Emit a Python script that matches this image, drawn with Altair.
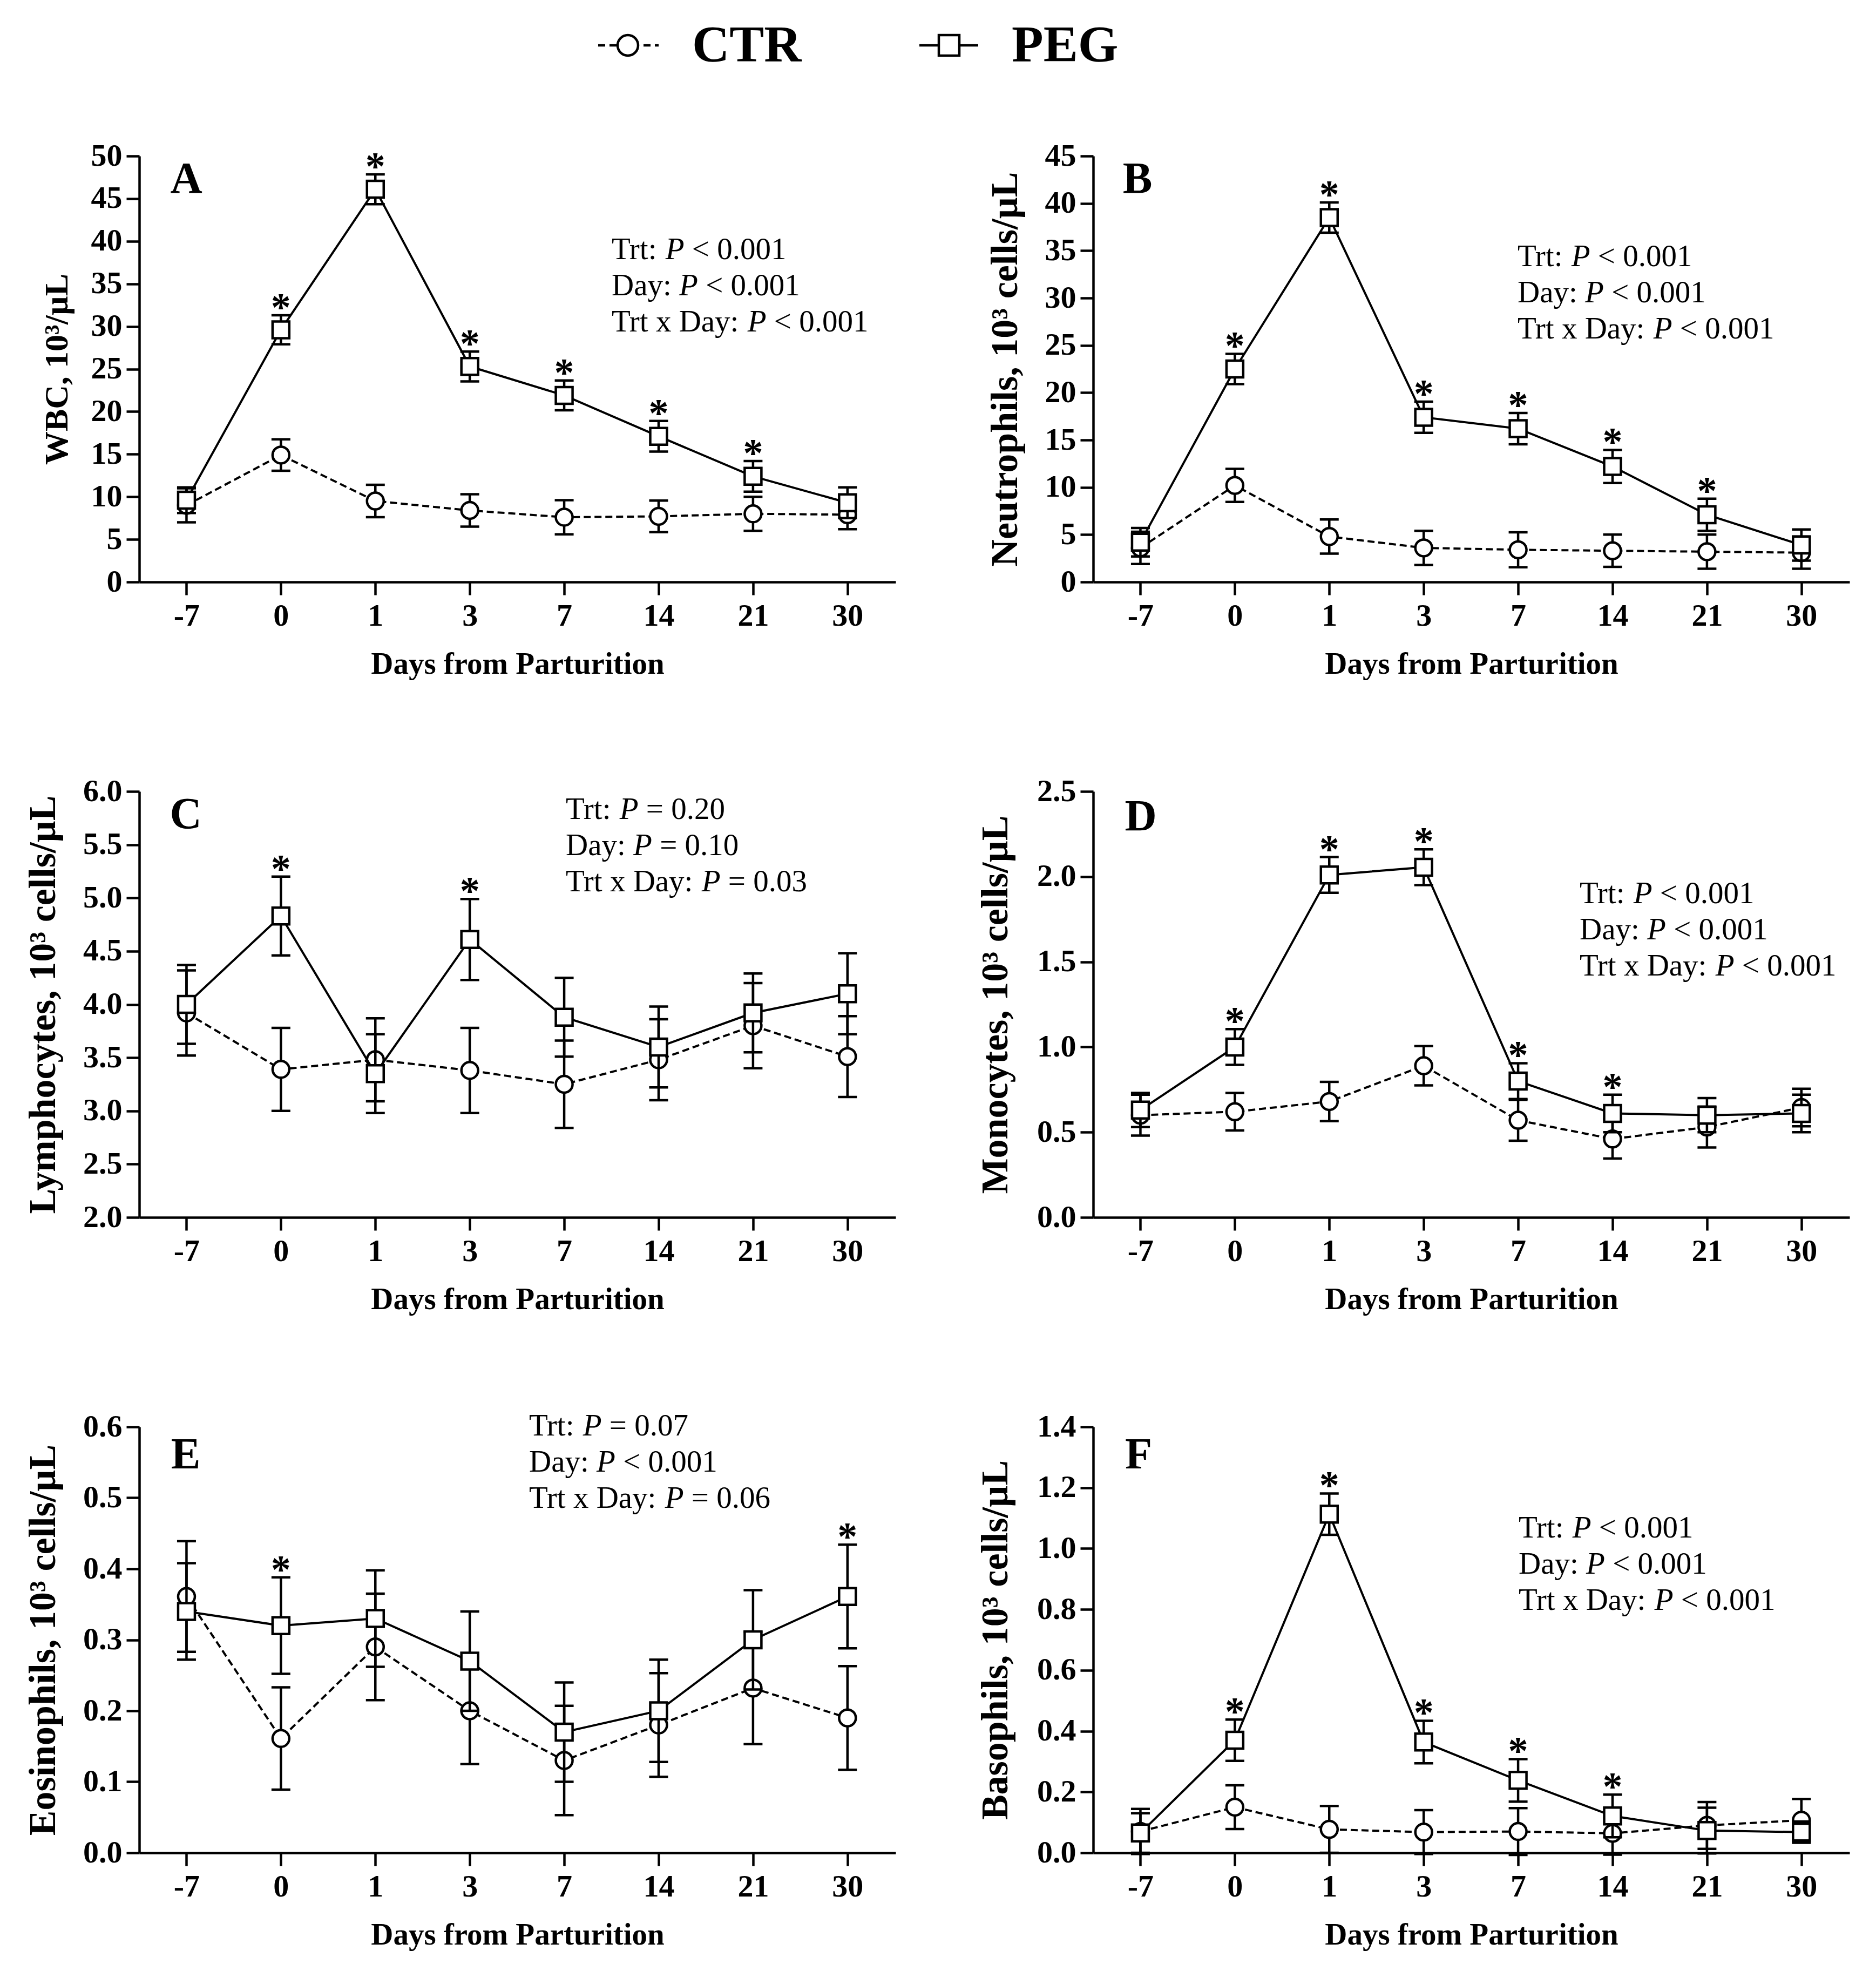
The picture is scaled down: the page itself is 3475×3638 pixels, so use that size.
import altair as alt
import pandas as pd

# ---------------- data ----------------
DAYS = ["-7", "0", "1", "3", "7", "14", "21", "30"]
GROUPS = ["CTR", "PEG"]

WBC_CTR = [9.0, 14.9, 9.5, 8.4, 7.6, 7.7, 8.0, 7.9]
WBC_CTR_SE = [2.0, 1.85, 1.9, 1.9, 2.0, 1.85, 2.0, 1.7]
WBC_PEG = [9.6, 29.6, 46.1, 25.3, 21.9, 17.1, 12.4, 9.3]
WBC_PEG_SE = [1.5, 1.7, 1.75, 1.75, 1.75, 1.8, 1.8, 1.8]
WBC_SIG = ["0", "1", "3", "7", "14", "21"]

NEU_CTR = [3.6, 10.2, 4.8, 3.6, 3.4, 3.3, 3.2, 3.1]
NEU_CTR_SE = [1.7, 1.75, 1.8, 1.8, 1.85, 1.7, 1.8, 1.7]
NEU_PEG = [4.2, 22.5, 38.5, 17.4, 16.2, 12.2, 7.1, 3.9]
NEU_PEG_SE = [1.5, 1.6, 1.6, 1.65, 1.65, 1.75, 1.7, 1.65]
NEU_SIG = ["0", "1", "3", "7", "14", "21"]

LYM_CTR = [3.92, 3.39, 3.48, 3.38, 3.25, 3.48, 3.80, 3.51]
LYM_CTR_SE = [0.40, 0.39, 0.39, 0.40, 0.41, 0.38, 0.40, 0.38]
LYM_PEG = [4.00, 4.83, 3.35, 4.61, 3.88, 3.60, 3.92, 4.10]
LYM_PEG_SE = [0.37, 0.37, 0.37, 0.38, 0.37, 0.38, 0.37, 0.38]
LYM_SIG = ["0", "3"]

MON_CTR = [0.60, 0.62, 0.68, 0.89, 0.57, 0.46, 0.53, 0.645]
MON_CTR_SE = [0.12, 0.11, 0.115, 0.115, 0.12, 0.115, 0.12, 0.11]
MON_PEG = [0.63, 1.00, 2.01, 2.055, 0.80, 0.61, 0.60, 0.61]
MON_PEG_SE = [0.10, 0.105, 0.105, 0.105, 0.105, 0.11, 0.10, 0.11]
MON_SIG = ["0", "1", "3", "7", "14"]

EOS_CTR = [0.361, 0.161, 0.290, 0.200, 0.130, 0.180, 0.232, 0.190]
EOS_CTR_SE = [0.078, 0.072, 0.075, 0.075, 0.077, 0.073, 0.079, 0.073]
EOS_PEG = [0.340, 0.320, 0.330, 0.270, 0.170, 0.200, 0.300, 0.361]
EOS_PEG_SE = [0.068, 0.068, 0.068, 0.070, 0.070, 0.072, 0.070, 0.073]
EOS_SIG = ["0", "30"]

BAS_CTR = [0.070, 0.150, 0.077, 0.068, 0.070, 0.064, 0.090, 0.107]
BAS_CTR_SE = [0.074, 0.072, 0.077, 0.072, 0.077, 0.070, 0.077, 0.070]
BAS_PEG = [0.065, 0.370, 1.113, 0.364, 0.238, 0.121, 0.073, 0.068]
BAS_PEG_SE = [0.065, 0.068, 0.068, 0.070, 0.070, 0.070, 0.075, 0.035]
BAS_SIG = ["0", "1", "3", "7", "14"]

STATS_LT = [("Trt", "<", "0.001"), ("Day", "<", "0.001"), ("Trt x Day", "<", "0.001")]
STATS_C = [("Trt", "=", "0.20"), ("Day", "=", "0.10"), ("Trt x Day", "=", "0.03")]
STATS_E = [("Trt", "=", "0.07"), ("Day", "<", "0.001"), ("Trt x Day", "=", "0.06")]

PANELS = [
    dict(letter="A", ytitle="WBC, 10³/µL", ctr=WBC_CTR, ctr_se=WBC_CTR_SE,
         peg=WBC_PEG, peg_se=WBC_PEG_SE, sig=WBC_SIG, ydom=[0, 50],
         yticks=[0, 5, 10, 15, 20, 25, 30, 35, 40, 45, 50], fmt="d", stats=STATS_LT),
    dict(letter="B", ytitle="Neutrophils, 10³ cells/µL", ctr=NEU_CTR, ctr_se=NEU_CTR_SE,
         peg=NEU_PEG, peg_se=NEU_PEG_SE, sig=NEU_SIG, ydom=[0, 45],
         yticks=[0, 5, 10, 15, 20, 25, 30, 35, 40, 45], fmt="d", stats=STATS_LT),
    dict(letter="C", ytitle="Lymphocytes, 10³ cells/µL", ctr=LYM_CTR, ctr_se=LYM_CTR_SE,
         peg=LYM_PEG, peg_se=LYM_PEG_SE, sig=LYM_SIG, ydom=[2.0, 6.0],
         yticks=[2.0, 2.5, 3.0, 3.5, 4.0, 4.5, 5.0, 5.5, 6.0], fmt=".1f", stats=STATS_C),
    dict(letter="D", ytitle="Monocytes, 10³ cells/µL", ctr=MON_CTR, ctr_se=MON_CTR_SE,
         peg=MON_PEG, peg_se=MON_PEG_SE, sig=MON_SIG, ydom=[0.0, 2.5],
         yticks=[0.0, 0.5, 1.0, 1.5, 2.0, 2.5], fmt=".1f", stats=STATS_LT),
    dict(letter="E", ytitle="Eosinophils,  10³ cells/µL", ctr=EOS_CTR, ctr_se=EOS_CTR_SE,
         peg=EOS_PEG, peg_se=EOS_PEG_SE, sig=EOS_SIG, ydom=[0.0, 0.6],
         yticks=[0.0, 0.1, 0.2, 0.3, 0.4, 0.5, 0.6], fmt=".1f", stats=STATS_E),
    dict(letter="F", ytitle="Basophils, 10³ cells/µL", ctr=BAS_CTR, ctr_se=BAS_CTR_SE,
         peg=BAS_PEG, peg_se=BAS_PEG_SE, sig=BAS_SIG, ydom=[0.0, 1.4],
         yticks=[0.0, 0.2, 0.4, 0.6, 0.8, 1.0, 1.2, 1.4], fmt=".1f", stats=STATS_LT),
]

# ---------------- layout / style ----------------
FONT = "Liberation Serif"
W, H = 1401, 789
XDOM = [-0.5, 7.51]
LAYOUT = {
    "A": dict(titleX=-134, titleFS=62, letter=(87, 68), ann=(875, 191)),
    "B": dict(titleX=-142, titleFS=70, letter=(82, 68), ann=(786, 204)),
    "C": dict(titleX=-157, titleFS=70, letter=(86, 68), ann=(790, 51)),
    "D": dict(titleX=-160, titleFS=70, letter=(88, 72), ann=(901, 207)),
    "E": dict(titleX=-157, titleFS=70, letter=(86, 77), ann=(722, 16)),
    "F": dict(titleX=-160, titleFS=70, letter=(84, 77), ann=(788, 205)),
}
ANN_FS, ANN_LH = 57, 67
LW, MW = 4.0, 4.5

# Times / Liberation Serif advance widths (1/1000 em)
ADV = {" ": 250, "T": 611, "r": 333, "t": 278, ":": 278, "D": 722, "a": 444,
       "y": 500, "x": 500, "<": 564, "=": 564, ".": 250}
for _d in "0123456789":
    ADV[_d] = 500
P_ITALIC = 611


def tw(s, fs):
    return sum(ADV[c] for c in s) * fs / 1000.0


ONE = pd.DataFrame({"k": [0]})


def txt(text, x, y, **kw):
    props = dict(font=FONT, color="black", align="left", baseline="alphabetic")
    props.update(kw)
    return alt.Chart(ONE).mark_text(text=text, **props).encode(
        x=alt.value(x), y=alt.value(y))


def ann_layers(stats, x0, y0):
    out = []
    for i, (name, op, val) in enumerate(stats):
        y = y0 + i * ANN_LH
        pre = name + ":"
        px = x0 + tw(pre + " ", ANN_FS)
        sx = px + (P_ITALIC + ADV[" "]) * ANN_FS / 1000.0
        out.append(txt(pre, x0, y, fontSize=ANN_FS))
        out.append(txt("P", px, y, fontSize=ANN_FS, fontStyle="italic"))
        out.append(txt(f"{op} {val}", sx, y, fontSize=ANN_FS))
    return out


def legend_layers():
    out = []
    yc = -205
    out.append(alt.Chart(ONE).mark_rule(color="black", strokeWidth=MW, strokeDash=[13, 8]).encode(
        x=alt.value(850), x2=alt.value(962), y=alt.value(yc)))
    out.append(alt.Chart(ONE).mark_point(shape="circle", size=1444, filled=True, fill="white",
                                         stroke="black", strokeWidth=MW, opacity=1).encode(
        x=alt.value(905), y=alt.value(yc)))
    out.append(txt("CTR", 1024, -175, fontSize=96, fontWeight="bold"))
    out.append(alt.Chart(ONE).mark_rule(color="black", strokeWidth=MW).encode(
        x=alt.value(1445), x2=alt.value(1554), y=alt.value(yc)))
    out.append(alt.Chart(ONE).mark_point(shape="square", size=1444, filled=True, fill="white",
                                         stroke="black", strokeWidth=MW, opacity=1).encode(
        x=alt.value(1500), y=alt.value(yc)))
    out.append(txt("PEG", 1616, -175, fontSize=96, fontWeight="bold"))
    return out


label_expr = "[" + ",".join(f"'{d}'" for d in DAYS) + "][datum.value]"


def make_panel(p):
    lay = LAYOUT[p["letter"]]
    rows = []
    for g, m, se in (("CTR", p["ctr"], p["ctr_se"]), ("PEG", p["peg"], p["peg_se"])):
        for i, d in enumerate(DAYS):
            rows.append(dict(idx=i, day=d, grp=g, mean=m[i], lo=m[i] - se[i], hi=m[i] + se[i],
                             sig=1 if (g == "PEG" and d in p["sig"]) else 0))
    df = pd.DataFrame(rows)

    xscale = alt.Scale(domain=XDOM, nice=False, zero=False)
    yscale = alt.Scale(domain=p["ydom"], nice=False, zero=False)
    xaxis = alt.Axis(values=list(range(len(DAYS))), labelExpr=label_expr,
                     title="Days from Parturition", titleFontSize=57, titleY=169,
                     titleBaseline="alphabetic", labelPadding=10)
    yaxis = alt.Axis(values=p["yticks"], format=p["fmt"], title=p["ytitle"],
                     titleFontSize=lay["titleFS"], titleX=lay["titleX"],
                     titleBaseline="alphabetic", labelPadding=8)

    def X(f):
        return alt.X(f"{f}:Q", scale=xscale, axis=xaxis)

    def Y(f):
        return alt.Y(f"{f}:Q", scale=yscale, axis=yaxis)

    base = alt.Chart(df)
    layers = []
    for g in GROUPS:
        sub = base.transform_filter(alt.datum.grp == g)
        line_kw = dict(color="black", strokeWidth=LW)
        if g == "CTR":
            line_kw["strokeDash"] = [13, 7]
        layers.append(sub.mark_line(**line_kw).encode(x=X("idx"), y=Y("mean")))
        layers.append(sub.mark_rule(color="black", strokeWidth=MW).encode(
            x=X("idx"), y=Y("lo"), y2="hi:Q"))
        layers.append(sub.mark_tick(orient="horizontal", size=35, thickness=MW,
                                    color="black", opacity=1).encode(x=X("idx"), y=Y("lo")))
        layers.append(sub.mark_tick(orient="horizontal", size=35, thickness=MW,
                                    color="black", opacity=1).encode(x=X("idx"), y=Y("hi")))
        layers.append(sub.mark_point(shape="circle" if g == "CTR" else "square", size=961,
                                     filled=True, fill="white", stroke="black",
                                     strokeWidth=MW, opacity=1).encode(x=X("idx"), y=Y("mean")))
    layers.append(base.transform_filter(alt.datum.sig == 1).mark_text(
        text="*", font=FONT, fontSize=74, fontWeight="bold", color="black",
        baseline="alphabetic", dy=10).encode(x=X("idx"), y=Y("hi")))
    lx, ly = lay["letter"]
    layers.append(txt(p["letter"], lx, ly, fontSize=82, fontWeight="bold", align="center"))
    ax, ay = lay["ann"]
    layers += ann_layers(p["stats"], ax, ay)
    if p["letter"] == "A":
        layers += legend_layers()
    return alt.layer(*layers).properties(width=W, height=H)


charts = [make_panel(p) for p in PANELS]

chart = alt.concat(*charts, columns=2, spacing={"row": 388, "column": 366}, bounds="flush").properties(
    padding={"left": 36, "top": 29, "right": 10, "bottom": 10},
    background="white",
).configure_view(stroke=None).configure_axis(
    grid=False, domainColor="black", domainWidth=MW, tickColor="black", tickWidth=MW,
    tickSize=24, labelFont=FONT, labelFontWeight="bold", labelFontSize=58,
    labelColor="black", titleFont=FONT, titleFontWeight="bold", titleColor="black",
    labelFlush=False, labelOverlap=False
)

chart.save("out.html", embed_options={"renderer": "svg", "actions": False})
